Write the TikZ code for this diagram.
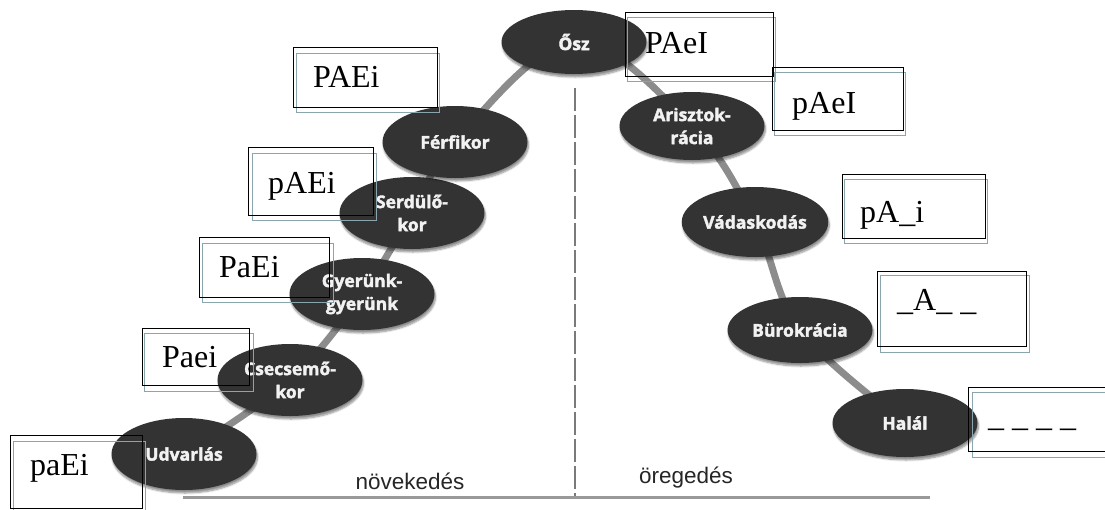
\documentclass[tikz,border=0pt]{standalone}
\usepackage{fontspec}
\setmainfont{Liberation Serif}
\newfontfamily\osfont{Open Sans}[FakeBold=2.2]
\newfontfamily\lsfont{Liberation Sans}
\usetikzlibrary{shapes.geometric,shadows.blur}
\definecolor{boxblue}{HTML}{8AA5AD}
\pgfdeclarelayer{bg}
\pgfsetlayers{bg,main}
\begin{document}
\begin{tikzpicture}[x=1pt,y=-1pt,
  stage/.style={ellipse, fill=black!80, text=white!95!black, inner sep=0pt,
    minimum width=145pt, minimum height=72pt, align=center,
    font=\osfont\bfseries\fontsize{17.5}{23}\selectfont,
    blur shadow={shadow xshift=1pt, shadow yshift=-3pt, shadow blur steps=6, shadow opacity=45}},
  outerbox/.style={draw=black, line width=1.3pt, anchor=north west, inner sep=0pt},
  shadebox/.style={draw=boxblue, line width=0.9pt, anchor=north west, inner sep=0pt},
  code/.style={anchor=base west, inner sep=0pt, font=\fontsize{32}{38}\selectfont},
  axislabel/.style={inner sep=0pt, font=\lsfont\fontsize{22.5}{26}\selectfont, text=black!85},
  curve/.style={draw=black!45, line width=7pt, line cap=round},
  divider/.style={draw=black!52, line width=2.7pt, dash pattern=on 23pt off 4pt},
  groundline/.style={draw=black!40, line width=3pt}
]
\useasboundingbox (0,0) rectangle (1105,509);
\clip (0,0) rectangle (1105,509);

% stages
\node[stage] (u) at (184,454) {Udvarlás};
\node[stage] (c) at (290,380) {Csecsemő-\\kor};
\node[stage] (g) at (362,294) {Gyerünk-\\gyerünk};
\node[stage] (s) at (412,213) {Serdülő-\\kor};
\node[stage] (f) at (455,142) {Férfikor};
\node[stage, minimum height=64pt] (o) at (574,42) {Ősz};
\node[stage, minimum height=68pt] (a) at (692,126) {Arisztok-\\rácia};
\node[stage, minimum height=70pt] (v) at (755,222) {Vádaskodás};
\node[stage, minimum height=66pt] (b) at (800,330) {Bürokrácia};
\node[stage, minimum height=68pt] (h) at (905,423) {Halál};

% curve, divider and ground line behind the stages
\coordinate (dtop) at (575,88);
\coordinate (dbot) at (575,497);
\coordinate (bl) at (183,497);
\coordinate (br) at (930,497);
\begin{pgfonlayer}{bg}
\draw[curve] plot[smooth, tension=0.6] coordinates {(u.center) (c.center) (g.center) (s.center) (f.center) (o.center) (a.center) (v.center) (b.center) (h.center)};
\draw[divider] (dtop) -- (dbot);
\draw[groundline] (bl) -- (br);
\end{pgfonlayer}

\node[axislabel] (grow) at (410,481) {növekedés};
\node[axislabel] (age) at (686,478) {öregedés};

% label boxes: offset blue-grey frame and black frame
\node[shadebox, minimum width=132pt, minimum height=74pt] (bx1s) at (13,441) {};
\node[outerbox, minimum width=132pt, minimum height=73pt] (bx1) at (10,435) {};
\node[code] (t1) at (30,475) {paEi};

\node[shadebox, minimum width=109pt, minimum height=58pt] (bx2s) at (144,333) {};
\node[outerbox, minimum width=107pt, minimum height=57pt] (bx2) at (142,328) {};
\node[code] (t2) at (162,367) {Paei};

\node[shadebox, minimum width=131pt, minimum height=59pt] (bx3s) at (202,243) {};
\node[outerbox, minimum width=130pt, minimum height=60pt] (bx3) at (199,237) {};
\node[code] (t3) at (219,277) {PaEi};

\node[shadebox, minimum width=124pt, minimum height=67pt] (bx4s) at (252,153) {};
\node[outerbox, minimum width=125pt, minimum height=68pt] (bx4) at (248,147) {};
\node[code] (t4) at (268,193) {pAEi};

\node[shadebox, minimum width=143pt, minimum height=59pt] (bx5s) at (296,53) {};
\node[outerbox, minimum width=144pt, minimum height=60pt] (bx5) at (293,47) {};
\node[code] (t5) at (313,87) {PAEi};

\node[shadebox, minimum width=148pt, minimum height=64pt] (bx6s) at (627,17) {};
\node[outerbox, minimum width=148pt, minimum height=64pt] (bx6) at (625,12) {};
\node[code] (t6) at (645,53) {PAeI};

\node[shadebox, minimum width=131pt, minimum height=63pt] (bx7s) at (774,72) {};
\node[outerbox, minimum width=131pt, minimum height=63pt] (bx7) at (772,67) {};
\node[code] (t7) at (792,113) {pAeI};

\node[shadebox, minimum width=143pt, minimum height=64pt] (bx8s) at (844,179) {};
\node[outerbox, minimum width=143pt, minimum height=64pt] (bx8) at (842,174) {};
\node[code] (t8) at (860,222) {pA\_i};

\node[shadebox, minimum width=149pt, minimum height=77pt] (bx9s) at (880,275) {};
\node[outerbox, minimum width=149pt, minimum height=75pt] (bx9) at (877,271) {};
\node[code] (t9) at (897,310) {\_A\_ \_};

\node[shadebox, minimum width=150pt, minimum height=65pt] (bx10s) at (972,392) {};
\node[outerbox, minimum width=150pt, minimum height=64pt] (bx10) at (968,387) {};
\node[code] (t10) at (988,426) {\_ \_ \_ \_};
\end{tikzpicture}
\end{document}
